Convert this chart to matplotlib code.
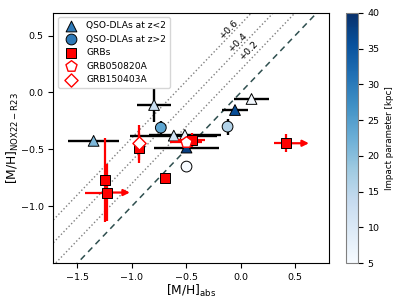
import numpy as np
import matplotlib
matplotlib.use("Agg")
import matplotlib.pyplot as plt

# QSO-DLAs at z<2 (triangles)
tri_x = [-1.35, -0.795, -0.614, -0.512, -0.497, -0.052, 0.10]
tri_y = [-0.425, -0.11, -0.379, -0.373, -0.484, -0.154, -0.057]
tri_xe = [0.235, 0.16, 0.40, 0.33, 0.30, 0.12, 0.16]
tri_ye = [0.0, 0.145, 0.0, 0.0, 0.0, 0.0, 0.0]
tri_b = [21, 13, 12, 7, 38, 36, 6]
# QSO-DLAs at z>2 (circles)
cir_x = [-0.733, -0.12, -0.497]
cir_y = [-0.309, -0.30, -0.651]
cir_ye = [0.06, 0.07, 0.0]
cir_b = [24, 16, 5]
# GRBs (squares)
grb_x = [-1.248, -1.227, -0.936, -0.696, -0.451, 0.417]
grb_y = [-0.768, -0.879, -0.49, -0.753, -0.417, -0.446]
grb_xe = [0.0, 0.20, 0.0, 0.04, 0.12, 0.11]
grb_ye = [0.37, 0.25, 0.13, 0.04, 0.06, 0.08]
grb_lim = [False, True, False, False, False, True]   # lower limits in x
# individual GRBs
g0508 = dict(x=-0.503, y=-0.437, xe=0.15, ye=0.05)
g1504 = dict(x=-0.936, y=-0.44, xe=0.0, ye=0.15)
offsets = [0.2, 0.4, 0.6]

plt.rcParams.update({"font.size": 6.8})
fig = plt.figure(figsize=(4.07, 3.05), dpi=100)
ax = fig.add_axes([0.131, 0.137, 0.677, 0.821])
cax = fig.add_axes([0.850, 0.137, 0.0295, 0.821])
cmap = plt.get_cmap("Blues")
norm = matplotlib.colors.Normalize(5, 40)

xx = np.array([-2.0, 1.0])
ax.plot(xx, xx, ls=(0, (4, 3)), color="#2f4f4f", lw=1.1, zorder=1)
for off, (tx, ty) in zip(offsets, [(0.076, 0.373), (-0.025, 0.443), (-0.108, 0.557)]):
    ax.plot(xx, xx + off, ls=":", color="gray", lw=1.0, zorder=1)
    ax.text(tx, ty, f"+{off}", rotation=46, rotation_mode="anchor",
            ha="center", va="center", fontsize=6.8)

ax.errorbar(tri_x, tri_y, xerr=tri_xe, yerr=tri_ye, fmt="none", ecolor="k",
            elinewidth=1.7, zorder=2)
ax.errorbar(cir_x, cir_y, yerr=cir_ye, fmt="none", ecolor="k",
            elinewidth=1.7, zorder=2)
sc = ax.scatter(tri_x, tri_y, c=tri_b, cmap=cmap, norm=norm, marker="^",
                s=60, edgecolors="k", linewidths=0.7, zorder=3)
ax.scatter(cir_x, cir_y, c=cir_b, cmap=cmap, norm=norm, marker="o",
           s=60, edgecolors="k", linewidths=0.7, zorder=3)

for x, y, xe, ye, lim in zip(grb_x, grb_y, grb_xe, grb_ye, grb_lim):
    if lim:
        ax.errorbar([x], [y], xerr=[[xe], [0]], yerr=ye, fmt="none",
                    ecolor="red", elinewidth=1.6, zorder=4)
        ax.annotate("", xy=(x + 0.21, y), xytext=(x, y),
                    arrowprops=dict(arrowstyle="-|>", color="red", lw=1.6,
                                    mutation_scale=9, shrinkA=0, shrinkB=0),
                    zorder=4)
    else:
        ax.errorbar([x], [y], xerr=xe, yerr=ye, fmt="none", ecolor="red",
                    elinewidth=1.6, zorder=4)
ax.errorbar([g0508["x"]], [g0508["y"]], xerr=g0508["xe"], yerr=g0508["ye"],
            fmt="none", ecolor="red", elinewidth=1.6, zorder=4)
ax.errorbar([g1504["x"]], [g1504["y"]], yerr=g1504["ye"], fmt="none",
            ecolor="red", elinewidth=1.6, zorder=4)
ax.scatter(grb_x, grb_y, marker="s", s=55, c="red", edgecolors="k",
           linewidths=0.7, zorder=5)
ax.scatter([g0508["x"]], [g0508["y"]], marker="p", s=70, c="white",
           edgecolors="red", linewidths=1.0, zorder=6)
ax.scatter([g1504["x"]], [g1504["y"]], marker="D", s=45, c="white",
           edgecolors="red", linewidths=1.0, zorder=6)

# legend handles
ax.scatter([], [], marker="^", s=60, c="#2f7ab8", edgecolors="k",
           linewidths=0.7, label="QSO-DLAs at z<2")
ax.scatter([], [], marker="o", s=60, c="#2f7ab8", edgecolors="k",
           linewidths=0.7, label="QSO-DLAs at z>2")
ax.scatter([], [], marker="s", s=55, c="red", edgecolors="k",
           linewidths=0.7, label="GRBs")
ax.scatter([], [], marker="p", s=70, c="white", edgecolors="red",
           linewidths=1.0, label="GRB050820A")
ax.scatter([], [], marker="D", s=45, c="white", edgecolors="red",
           linewidths=1.0, label="GRB150403A")
ax.legend(loc="upper left", fontsize=6.6, handletextpad=0.7)

ax.set_xlim(-1.72, 0.81)
ax.set_ylim(-1.5, 0.7)
ax.set_xticks([-1.5, -1.0, -0.5, 0.0, 0.5])
ax.set_yticks([-1.0, -0.5, 0.0, 0.5])
ax.set_xlabel(r"[M/H]$_{\rm abs}$", fontsize=8.8, labelpad=1)
ax.set_ylabel(r"[M/H]$_{\rm NOX22-R23}$", fontsize=8.8, labelpad=0)

cb = fig.colorbar(sc, cax=cax)
cb.set_ticks([5, 10, 15, 20, 25, 30, 35, 40])
cb.set_label("Impact parameter [kpc]", fontsize=6.3)
cb.outline.set_edgecolor("gray")

fig.savefig("out.png", dpi=100)
